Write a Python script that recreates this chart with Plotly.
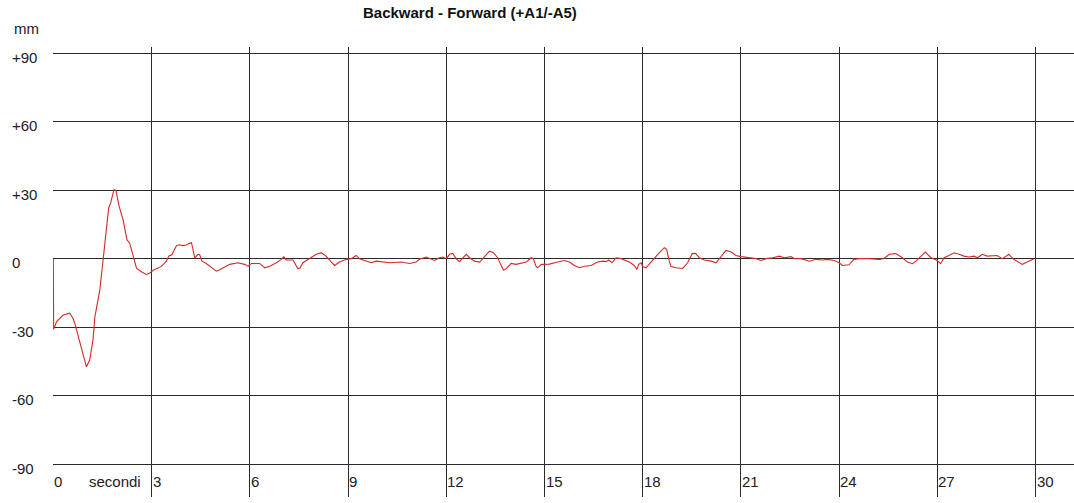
import plotly.graph_objects as go

# Displacement trace: time in seconds, displacement in mm
time_s = [
    0.00, 0.01, 0.10, 0.30, 0.50, 0.60, 0.66, 0.81, 0.91, 1.01, 1.11, 1.21, 1.27,
    1.42, 1.52, 1.62, 1.69, 1.75, 1.85, 1.91, 2.01, 2.13, 2.25, 2.33, 2.44, 2.54,
    2.69, 2.84, 2.94, 3.05, 3.30, 3.45, 3.53, 3.62, 3.76, 3.84, 3.96, 4.06, 4.16,
    4.22, 4.32, 4.42, 4.47, 4.54, 4.67, 4.83, 4.98, 5.08, 5.18, 5.39, 5.64, 5.84,
    5.95, 6.05, 6.30, 6.46, 6.61, 6.81, 6.96, 7.04, 7.11, 7.32, 7.47, 7.54, 7.62,
    7.83, 8.03, 8.18, 8.33, 8.49, 8.59, 8.74, 8.95, 9.10, 9.25, 9.35, 9.56, 9.71,
    9.86, 10.01, 10.27, 10.62, 10.88, 11.08, 11.18, 11.39, 11.54, 11.64, 11.79,
    11.90, 12.00, 12.10, 12.20, 12.30, 12.40, 12.51, 12.61, 12.71, 12.86, 13.02,
    13.17, 13.32, 13.44, 13.57, 13.66, 13.75, 13.83, 13.98, 14.13, 14.29, 14.44,
    14.59, 14.66, 14.74, 14.79, 14.90, 15.15, 15.40, 15.61, 15.76, 15.91, 16.07,
    16.22, 16.42, 16.62, 16.78, 16.88, 16.96, 17.06, 17.19, 17.34, 17.59, 17.74,
    17.82, 17.88, 17.95, 18.00, 18.10, 18.30, 18.46, 18.66, 18.73, 18.81, 18.86,
    19.02, 19.22, 19.37, 19.51, 19.61, 19.73, 19.88, 20.09, 20.24, 20.39, 20.54,
    20.70, 20.85, 21.00, 21.25, 21.46, 21.61, 21.76, 21.97, 22.17, 22.32, 22.53,
    22.63, 22.83, 23.09, 23.29, 23.49, 23.65, 23.85, 24.00, 24.10, 24.30, 24.45,
    24.61, 24.92, 25.22, 25.37, 25.53, 25.73, 25.93, 26.08, 26.24, 26.34, 26.50,
    26.63, 26.80, 26.97, 27.10, 27.20, 27.35, 27.51, 27.66, 27.81, 27.96, 28.12,
    28.22, 28.37, 28.52, 28.67, 28.82, 28.98, 29.18, 29.33, 29.44, 29.59, 29.74,
    29.95,
]
displacement_mm = [
    0.0, -30.9, -27.5, -24.6, -23.8, -26.0, -28.5, -37.0, -42.9, -47.3, -44.3, -35.6, -25.3,
    -13.6, -0.4, 12.7, 22.3, 24.4, 30.3, 30.0, 23.0, 17.1, 8.3, 7.0, 1.0, -4.1,
    -5.6, -6.8, -6.3, -5.0, -3.3, -1.0, 1.3, 1.8, 5.8, 6.2, 5.8, 6.1, 6.8,
    7.1, 0.4, 2.0, 1.8, -1.0, -2.0, -3.7, -5.4, -4.8, -3.9, -2.4, -1.7, -2.4,
    -3.2, -2.0, -2.0, -3.9, -3.2, -1.7, -0.2, 1.0, -0.5, -0.5, -4.3, -3.9, -1.7,
    0.1, 2.0, 2.7, 1.2, -1.4, -2.9, -1.4, -0.2, 0.1, 1.5, 0.0, -1.0, -1.7,
    -1.0, -1.2, -1.7, -1.4, -2.0, -1.4, -0.2, 0.8, 0.1, -0.7, 0.5,
    0.8, 0.1, 2.0, 2.4, 0.1, -1.2, 0.5, 2.0, 0.5, -1.0, -1.4,
    1.2, 3.4, 2.7, 0.5, -2.4, -5.0, -4.3, -2.0, -2.4, -2.0, -1.4,
    0.5, 0.1, -3.2, -3.9, -2.4, -2.3, -1.4, -0.7, -1.4, -2.9, -3.9,
    -3.2, -2.9, -1.4, -1.0, -1.2, -0.5, -1.7, 0.5, 0.1, -1.4, -2.9,
    -4.6, -2.4, -1.7, -3.4, -3.9, -0.5, 2.0, 4.9, 4.2, -1.0, -3.4,
    -3.9, -4.2, -1.7, 2.3, 2.4, 0.5, -0.5, -1.0, -1.7, 1.2, 3.7,
    3.0, 1.5, 1.0, 0.5, 0.1, -0.7, 0.1, 0.5, 1.2, 0.5, 1.0,
    0.1, 0.1, -1.0, -0.2, -0.5, -0.2, -0.7, -1.7, -2.9, -2.6, -0.2,
    0.1, 0.1, -0.2, 0.2, 2.0, 2.3, 0.5, -1.4, -2.1, -1.0, 1.2,
    3.0, 0.5, -0.5, -2.1, 0.5, 1.5, 2.7, 2.0, 1.2, 0.8, 1.2,
    0.5, 2.0, 1.2, 1.5, 1.5, 0.1, 2.0, -0.2, -1.0, -2.4, -1.4,
    0.1,
]

x_ticks = [0, 3, 6, 9, 12, 15, 18, 21, 24, 27, 30]
y_ticks = [90, 60, 30, 0, -30, -60, -90]
y_tick_text = ["+90", "+60", "+30", "0", "-30", "-60", "-90"]

FONT = "Liberation Sans, Arial, sans-serif"
GRID = "#2b2b2b"

fig = go.Figure()
fig.add_trace(go.Scatter(
    x=time_s, y=displacement_mm, mode="lines",
    line=dict(color="#d42a2a", width=1.1),
    hoverinfo="skip", showlegend=False,
))

annotations = []
# y labels, left aligned at the page edge
for v, t in zip(y_ticks, y_tick_text):
    annotations.append(dict(
        x=10, xref="paper", y=v, yref="y", text=t, showarrow=False,
        xanchor="left", yanchor="middle", yshift=-4,
        font=dict(family=FONT, size=15, color="#222"),
    ))
# x labels, placed just right of each grid line near the bottom
for v in x_ticks:
    annotations.append(dict(
        x=v, xref="x", y=-97.5, yref="y", text=str(v), showarrow=False,
        xanchor="left", yanchor="middle", xshift=-1,
        font=dict(family=FONT, size=15, color="#222"),
    ))
annotations.append(dict(
    x=1.89, xref="x", y=-97.5, yref="y", text="secondi", showarrow=False,
    xanchor="center", yanchor="middle",
    font=dict(family=FONT, size=15, color="#222"),
))
annotations.append(dict(
    x=26.5, xref="paper", y=28, yref="paper", text="mm", showarrow=False,
    xanchor="center", yanchor="middle",
    font=dict(family=FONT, size=15, color="#222"),
))
annotations.append(dict(
    x=470, xref="paper", y=13, yref="paper", text="<b>Backward - Forward (+A1/-A5)</b>",
    showarrow=False, xanchor="center", yanchor="middle",
    font=dict(family=FONT, size=15, color="#111"),
))

W, H = 1074, 503
ml, mr, mt, mb = 53, 0, 47, 6
pw, ph = W - ml - mr, H - mt - mb
# convert pixel-based annotation anchors into paper fractions
for a in annotations:
    if a["xref"] == "paper":
        a["x"] = (a["x"] - ml) / pw
    if a["yref"] == "paper":
        a["y"] = (H - mb - a["y"]) / ph
    a["yref"] = a["yref"]
    a["xref"] = a["xref"]

fig.update_layout(
    width=W, height=H,
    margin=dict(l=ml, r=mr, t=mt, b=mb, pad=0),
    paper_bgcolor="white", plot_bgcolor="white",
    xaxis=dict(
        range=[-0.01, 31.17], tickvals=x_ticks, showticklabels=False,
        showgrid=True, gridcolor=GRID, gridwidth=1.3, zeroline=False,
        showline=False, ticks="", fixedrange=True,
    ),
    yaxis=dict(
        range=[-104.35, 92.85], tickvals=y_ticks, showticklabels=False,
        showgrid=True, gridcolor=GRID, gridwidth=1.3, zeroline=False,
        showline=False, ticks="", fixedrange=True,
    ),
    annotations=annotations,
)

fig.write_html("out.html")
